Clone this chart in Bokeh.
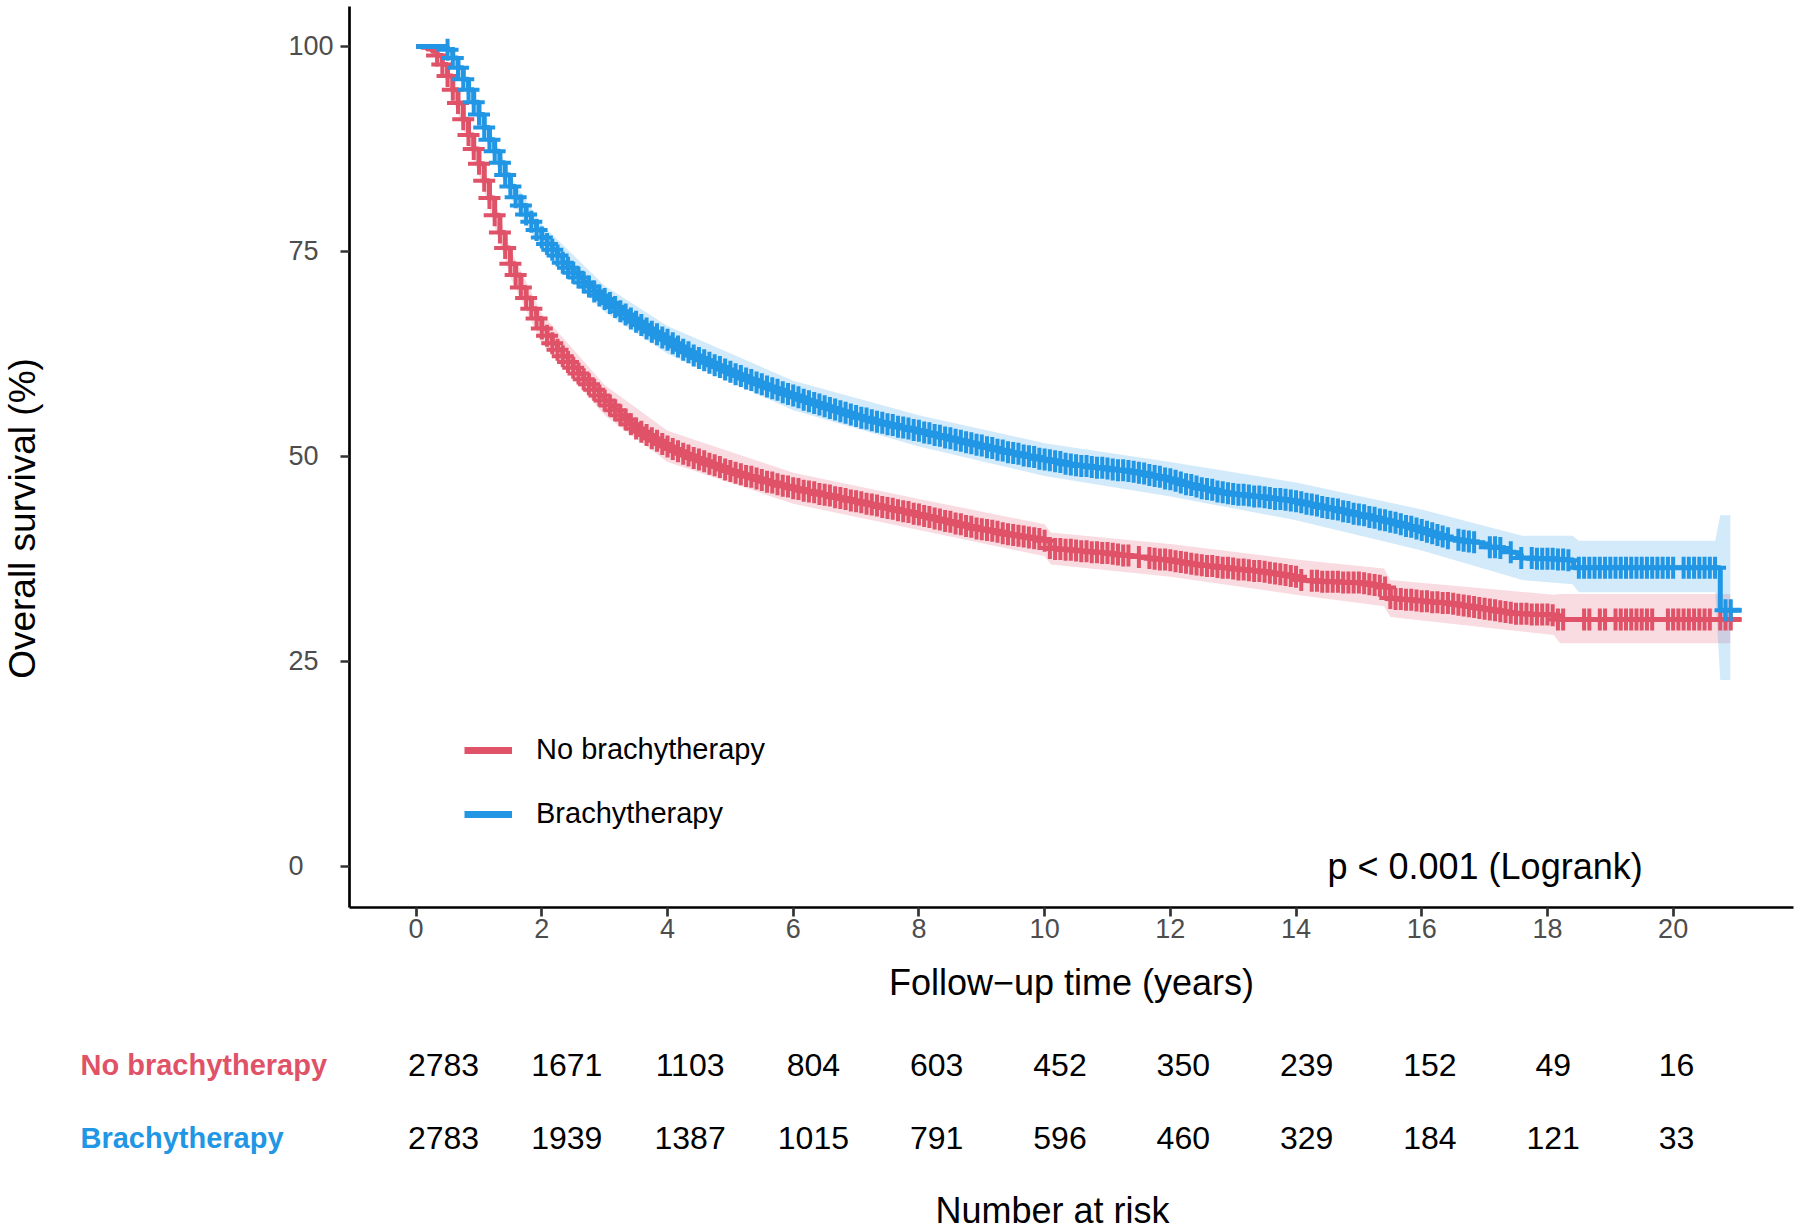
import numpy as np
from bokeh.plotting import figure
from bokeh.models import Range1d, FixedTicker, Legend, LegendItem, Label
from bokeh.layouts import row, column
from bokeh.embed import file_html
from bokeh.resources import INLINE
from bokeh.core.properties import value

# ---------------- data ----------------
groups = ["No brachytherapy", "Brachytherapy"]
RED = "#E05268"
BLUE = "#2196E4"

x_ticks = [0, 2, 4, 6, 8, 10, 12, 14, 16, 18, 20]
y_ticks = [0, 25, 50, 75, 100]

# Kaplan-Meier estimate (%) at follow-up month
months_red = [
    0, 1, 2, 3, 4, 5, 6, 7, 8, 9, 10, 11, 12, 13, 14, 15, 16, 17, 18, 19,
    20, 21, 22, 23, 24, 25, 26, 27, 28, 29, 30, 31, 32, 33, 34, 35, 36, 37, 38, 39,
    40, 41, 42, 43, 44, 45, 46, 47, 48, 49, 50, 51, 52, 53, 54, 55, 56, 57, 58, 59,
    60, 61, 62, 63, 64, 65, 66, 67, 68, 69, 70, 71, 72, 73, 74, 75, 76, 77, 78, 79,
    80, 81, 82, 83, 84, 85, 86, 87, 88, 89, 90, 91, 92, 93, 94, 95, 96, 97, 98, 99,
    100, 101, 102, 103, 104, 105, 106, 107, 108, 109, 110, 111, 112, 113, 114, 115, 116, 117, 118, 119,
    120, 121, 122, 123, 124, 125, 126, 127, 128, 129, 130, 131, 132, 133, 134, 135, 136, 137, 138, 139,
    140, 141, 142, 143, 144, 145, 146, 147, 148, 149, 150, 151, 152, 153, 154, 155, 156, 157, 158, 159,
    160, 161, 162, 163, 164, 165, 166, 167, 168, 169, 170, 171, 172, 173, 174, 175, 176, 177, 178, 179,
    180, 181, 182, 183, 184, 185, 186, 187, 188, 189, 190, 191, 192, 193, 194, 195, 196, 197, 198, 199,
    200, 201, 202, 203, 204, 205, 206, 207, 208, 209, 210, 211, 212, 213, 214, 215, 216, 217, 218, 253]
surv_red = [
    100.0, 99.9, 99.7, 99.4, 98.9, 97.8,
    96.4, 94.7, 93.1, 91.1, 89.2, 87.5,
    85.7, 83.6, 81.5, 79.4, 77.3, 75.4,
    73.5, 72.1, 70.6, 69.3, 68.0, 66.8,
    65.6, 64.7, 63.8, 63.0, 62.2, 61.5,
    60.8, 60.1, 59.4, 58.8, 58.1, 57.4,
    56.8, 56.2, 55.6, 55.0, 54.5, 53.9,
    53.4, 53.0, 52.6, 52.2, 51.9, 51.5,
    51.2, 50.9, 50.6, 50.3, 50.1, 49.8,
    49.6, 49.4, 49.1, 48.9, 48.7, 48.4,
    48.2, 48.0, 47.8, 47.6, 47.5, 47.3,
    47.1, 46.9, 46.8, 46.6, 46.4, 46.3,
    46.1, 46.0, 45.8, 45.7, 45.6, 45.4,
    45.3, 45.2, 45.0, 44.9, 44.8, 44.6,
    44.5, 44.4, 44.2, 44.1, 44.0, 43.8,
    43.7, 43.6, 43.4, 43.3, 43.2, 43.0,
    42.9, 42.7, 42.6, 42.4, 42.3, 42.1,
    42.0, 41.8, 41.7, 41.5, 41.4, 41.2,
    41.1, 41.0, 40.9, 40.8, 40.6, 40.5,
    40.4, 40.3, 40.2, 40.1, 40.0, 39.9,
    39.7, 38.8, 38.7, 38.7, 38.6, 38.6,
    38.5, 38.4, 38.4, 38.3, 38.3, 38.2,
    38.2, 38.1, 38.0, 37.9, 37.9, 37.8,
    37.7, 37.7, 37.6, 37.5, 37.4, 37.4,
    37.3, 37.2, 37.1, 37.0, 36.9, 36.8,
    36.7, 36.6, 36.6, 36.5, 36.4, 36.4,
    36.3, 36.2, 36.2, 36.1, 36.0, 36.0,
    35.9, 35.8, 35.7, 35.6, 35.5, 35.4,
    35.3, 34.9, 34.8, 34.8, 34.8, 34.7,
    34.7, 34.7, 34.7, 34.6, 34.6, 34.6,
    34.6, 34.5, 34.4, 34.3, 34.2, 34.0,
    32.7, 32.6, 32.6, 32.5, 32.5, 32.4,
    32.3, 32.3, 32.2, 32.2, 32.1, 32.1,
    32.0, 31.9, 31.8, 31.7, 31.6, 31.5,
    31.4, 31.3, 31.2, 31.1, 31.0, 30.9,
    30.8, 30.8, 30.8, 30.7, 30.7, 30.7,
    30.7, 30.6,
    30.1, 30.1]

months_blue = [
    0, 1, 2, 3, 4, 5, 6, 7, 8, 9, 10, 11, 12, 13, 14, 15, 16, 17, 18, 19,
    20, 21, 22, 23, 24, 25, 26, 27, 28, 29, 30, 31, 32, 33, 34, 35, 36, 37, 38, 39,
    40, 41, 42, 43, 44, 45, 46, 47, 48, 49, 50, 51, 52, 53, 54, 55, 56, 57, 58, 59,
    60, 61, 62, 63, 64, 65, 66, 67, 68, 69, 70, 71, 72, 73, 74, 75, 76, 77, 78, 79,
    80, 81, 82, 83, 84, 85, 86, 87, 88, 89, 90, 91, 92, 93, 94, 95, 96, 97, 98, 99,
    100, 101, 102, 103, 104, 105, 106, 107, 108, 109, 110, 111, 112, 113, 114, 115, 116, 117, 118, 119,
    120, 121, 122, 123, 124, 125, 126, 127, 128, 129, 130, 131, 132, 133, 134, 135, 136, 137, 138, 139,
    140, 141, 142, 143, 144, 145, 146, 147, 148, 149, 150, 151, 152, 153, 154, 155, 156, 157, 158, 159,
    160, 161, 162, 163, 164, 165, 166, 167, 168, 169, 170, 171, 172, 173, 174, 175, 176, 177, 178, 179,
    180, 181, 182, 183, 184, 185, 186, 187, 188, 189, 190, 191, 192, 193, 194, 195, 196, 197, 198, 199,
    200, 201, 202, 203, 204, 205, 206, 207, 208, 209, 210, 211, 212, 213, 214, 215, 216, 217, 218, 219,
    220, 221, 249, 253]
surv_blue = [
    100.0, 100.0, 100.0, 100.0, 100.0, 100.0,
    99.6, 98.6, 97.4, 96.0, 94.7, 93.2,
    91.7, 90.1, 88.6, 87.2, 85.8, 84.3,
    82.9, 81.6, 80.6, 79.5, 78.6, 77.6,
    76.7, 75.9, 75.2, 74.5, 73.6, 73.0,
    72.4, 71.8, 71.2, 70.7, 70.1, 69.6,
    69.2, 68.7, 68.2, 67.7, 67.3, 66.8,
    66.4, 66.0, 65.6, 65.2, 64.9, 64.5,
    64.2, 63.8, 63.4, 63.0, 62.7, 62.3,
    62.0, 61.7, 61.4, 61.1, 60.9, 60.6,
    60.3, 60.0, 59.8, 59.5, 59.3, 59.0,
    58.8, 58.5, 58.3, 58.1, 57.8, 57.6,
    57.4, 57.2, 56.9, 56.7, 56.5, 56.3,
    56.1, 55.9, 55.7, 55.5, 55.3, 55.1,
    54.9, 54.7, 54.6, 54.4, 54.2, 54.1,
    53.9, 53.8, 53.6, 53.5, 53.4, 53.2,
    53.1, 52.9, 52.8, 52.6, 52.5, 52.3,
    52.2, 52.0, 51.9, 51.7, 51.6, 51.4,
    51.3, 51.1, 51.0, 50.8, 50.7, 50.5,
    50.4, 50.3, 50.1, 50.0, 49.9, 49.7,
    49.6, 49.5, 49.4, 49.3, 49.1, 49.0,
    48.9, 48.8, 48.8, 48.7, 48.6, 48.6,
    48.5, 48.4, 48.3, 48.3, 48.2, 48.1,
    48.0, 47.9, 47.7, 47.6, 47.5, 47.3,
    47.2, 47.0, 46.8, 46.6, 46.5, 46.3,
    46.1, 46.0, 45.9, 45.7, 45.6, 45.5,
    45.4, 45.3, 45.3, 45.2, 45.1, 45.1,
    45.0, 44.9, 44.8, 44.8, 44.7, 44.6,
    44.5, 44.4, 44.2, 44.1, 44.0, 43.8,
    43.7, 43.6, 43.5, 43.3, 43.2, 43.0,
    42.9, 42.8, 42.6, 42.5, 42.3, 42.2,
    42.0, 41.9, 41.7, 41.5, 41.4, 41.2,
    41.0, 40.8, 40.6, 40.4, 40.2, 40.0,
    39.9, 39.8, 39.7, 39.6, 39.5, 39.4,
    39.3, 38.9, 38.9, 38.8, 38.5, 38.3,
    38.1, 37.6, 37.6, 37.6, 37.5, 37.5,
    37.5, 37.5, 37.4, 37.4, 37.3,
    36.4, 31.2, 31.2]

# months with censoring marks
censor_red = [
    4, 5, 6, 7, 8, 9, 10, 11, 12, 13, 14, 15, 16, 17, 18, 19, 20, 21, 22, 23,
    24, 25, 26, 27, 28, 29, 30, 31, 32, 33, 34, 35, 36, 37, 38, 39, 40, 41, 42, 43,
    44, 45, 46, 47, 48, 49, 50, 51, 52, 53, 54, 55, 56, 57, 58, 59, 60, 61, 62, 63,
    64, 65, 66, 67, 68, 69, 70, 71, 72, 73, 74, 75, 76, 77, 78, 79, 80, 81, 82, 83,
    84, 85, 86, 87, 88, 89, 90, 91, 92, 93, 94, 95, 96, 97, 98, 99, 100, 101, 102, 103,
    104, 105, 106, 107, 108, 109, 110, 111, 112, 113, 114, 115, 116, 117, 118, 119, 120, 121, 122, 123,
    124, 125, 126, 127, 128, 129, 130, 131, 132, 133, 134, 135, 136, 138, 140, 141, 142, 143, 144, 145,
    146, 147, 148, 149, 150, 151, 152, 153, 154, 155, 156, 157, 158, 159, 160, 161, 162, 163, 164, 165,
    166, 167, 168, 169, 171, 172, 173, 174, 175, 176, 177, 178, 179, 180, 181, 182, 183, 184, 185, 186,
    187, 188, 189, 190, 191, 192, 193, 194, 195, 196, 197, 198, 199, 200, 201, 202, 203, 204, 205, 206,
    207, 208, 209, 210, 211, 212, 213, 214, 215, 216, 217, 218, 219, 223, 224, 226, 227, 229, 230, 231,
    232, 233, 234, 235, 236, 239, 240, 241, 242, 243, 244, 245, 246, 247, 249, 250, 251]
censor_blue = [
    6, 7, 8, 9, 10, 11, 12, 13, 14, 15, 16, 17, 18, 19, 20, 21, 22, 23, 24, 25,
    26, 27, 28, 29, 30, 31, 32, 33, 34, 35, 36, 37, 38, 39, 40, 41, 42, 43, 44, 45,
    46, 47, 48, 49, 50, 51, 52, 53, 54, 55, 56, 57, 58, 59, 60, 61, 62, 63, 64, 65,
    66, 67, 68, 69, 70, 71, 72, 73, 74, 75, 76, 77, 78, 79, 80, 81, 82, 83, 84, 85,
    86, 87, 88, 89, 90, 91, 92, 93, 94, 95, 96, 97, 98, 99, 100, 101, 102, 103, 104, 105,
    106, 107, 108, 109, 110, 111, 112, 113, 114, 115, 116, 117, 118, 119, 120, 121, 122, 123, 124, 125,
    126, 127, 128, 129, 130, 131, 132, 133, 134, 135, 136, 137, 138, 139, 140, 141, 142, 143, 144, 145,
    146, 147, 148, 149, 150, 151, 152, 153, 154, 155, 156, 157, 158, 159, 160, 161, 162, 163, 164, 165,
    166, 167, 168, 169, 170, 171, 172, 173, 174, 175, 176, 177, 178, 179, 180, 181, 182, 183, 184, 185,
    186, 187, 188, 189, 190, 191, 192, 193, 194, 195, 196, 197, 199, 200, 201, 202, 205, 206, 207, 209,
    211, 213, 214, 215, 216, 217, 218, 219, 220, 222, 223, 224, 225, 226, 227, 228, 229, 230, 231, 232,
    233, 234, 235, 236, 237, 238, 239, 240, 242, 243, 244, 245, 246, 247, 248, 250, 251]

# 95% confidence band (years, %)
ci_t_red = [0, 0.3, 0.5, 1.0, 1.5, 2.0, 3.0, 4.0, 6.0, 8.0, 10.0, 10.1, 12.0, 14.0, 15.4, 15.5, 18.1, 18.2, 20.91]
ci_lo_red = [100, 99.3, 95.4, 84.3, 71.8, 63.8, 55.0, 49.3, 44.2, 41.0, 37.8, 36.8, 35.3, 33.1, 31.7, 30.4, 28.2, 27.2, 27.2]
ci_hi_red = [100, 100, 97.4, 87.1, 75.2, 67.4, 58.7, 53.1, 48.0, 44.8, 41.7, 40.7, 39.3, 37.4, 36.3, 34.9, 33.1, 33.2, 33.2]
ci_t_blue = [0, 0.49, 1.0, 1.5, 2.0, 3.0, 4.0, 6.0, 8.0, 10.0, 12.0, 14.0, 16.0, 17.6, 18.4, 18.5, 20.67, 20.75, 20.91]
ci_lo_blue = [100, 100, 90.6, 81.6, 75.1, 67.6, 62.5, 55.6, 51.2, 47.6, 45.1, 42.2, 38.5, 34.9, 34.4, 33.4, 33.4, 22.7, 22.7]
ci_hi_blue = [100, 100, 92.8, 84.2, 78.3, 70.8, 65.9, 59.2, 55.0, 51.6, 49.3, 46.8, 43.5, 40.3, 40.3, 39.7, 39.7, 42.8, 42.8]

# number at risk table
risk_times = [0, 2, 4, 6, 8, 10, 12, 14, 16, 18, 20]
risk_red = [2783, 1671, 1103, 804, 603, 452, 350, 239, 152, 49, 16]
risk_blue = [2783, 1939, 1387, 1015, 791, 596, 460, 329, 184, 121, 33]

p_text = "p < 0.001 (Logrank)"
x_title = "Follow\u2212up time (years)"
y_title = "Overall survival (%)"
risk_title = "Number at risk"

# ---------------- layout constants (px in the 1800x1230 page) ----------------
FONT = "Liberation Sans"
W, H = 1800, 1230
TITLE_W = 50                 # strip holding the rotated y title
MAIN_H = 1005                # height of the plot part
RISK_H = H - MAIN_H
FL, FR, FT, FB = 349, 1793, 6, 907      # frame edges
X_START, X_END = -1.06, 21.915
Y_START, Y_END = -5.05, 104.87


def bare(fig):
    fig.outline_line_color = None
    fig.grid.visible = False
    return fig


# ---------- y title strip ----------
fy = bare(figure(width=TITLE_W, height=MAIN_H, output_backend="svg", toolbar_location=None,
                 x_range=Range1d(0, TITLE_W), y_range=Range1d(0, MAIN_H),
                 x_axis_location=None, y_axis_location=None, frame_align=False,
                 min_border_left=0, min_border_right=0, min_border_top=0, min_border_bottom=0))
fy.add_layout(Label(x=22, y=MAIN_H - 518, text=y_title, angle=np.pi / 2,
                    text_font=FONT, text_font_size="37px", text_align="center",
                    text_baseline="middle", text_color="black"))

# ---------- main survival plot ----------
p = bare(figure(width=W - TITLE_W, height=MAIN_H, output_backend="svg", toolbar_location=None,
                x_range=Range1d(X_START, X_END), y_range=Range1d(Y_START, Y_END),
                frame_align=False,
                min_border_left=FL - TITLE_W, min_border_right=W - FR, min_border_top=FT,
                min_border_bottom=MAIN_H - FB))

p.xaxis.ticker = FixedTicker(ticks=x_ticks)
p.yaxis.ticker = FixedTicker(ticks=y_ticks)
# the reference's y labels are left-aligned: pad with figure spaces (digit width)
p.yaxis.major_label_overrides = {v: str(v).ljust(3, "\u2007") for v in y_ticks}
for ax in (p.xaxis[0], p.yaxis[0]):
    ax.axis_line_width = 2.7
    ax.axis_line_color = "black"
    ax.major_tick_line_width = 2.7
    ax.major_tick_line_color = "#333333"
    ax.major_tick_out = 9
    ax.major_tick_in = 0
    ax.minor_tick_line_color = None
    ax.major_label_text_font = FONT
    ax.major_label_text_font_size = "27px"
    ax.major_label_text_color = "#4D4D4D"
    ax.axis_label_text_font = FONT
    ax.axis_label_text_font_size = "36px"
    ax.axis_label_text_font_style = "normal"
    ax.axis_label_text_color = "black"
p.xaxis.axis_label = x_title
p.xaxis.major_label_standoff = 2
p.xaxis.axis_label_standoff = 21
p.yaxis.major_label_standoff = 7

# confidence bands
p.varea(x=ci_t_red, y1=ci_lo_red, y2=ci_hi_red, fill_color=RED, fill_alpha=0.2)
p.varea(x=ci_t_blue, y1=ci_lo_blue, y2=ci_hi_blue, fill_color=BLUE, fill_alpha=0.2)


def draw_curve(months, surv, censor, color):
    t = np.array(months) / 12.0
    s = np.array(surv)
    p.step(t, s, mode="after", line_color=color, line_width=5)
    idx = np.searchsorted(np.array(months), np.array(censor), side="right") - 1
    p.scatter(np.array(censor) / 12.0, s[idx], marker="cross", size=22,
              line_color=color, line_width=4)


draw_curve(months_red, surv_red, censor_red, RED)
draw_curve(months_blue, surv_blue, censor_blue, BLUE)

leg_r = p.line(x=[np.nan], y=[np.nan], line_color=RED, line_width=7)
leg_b = p.line(x=[np.nan], y=[np.nan], line_color=BLUE, line_width=7)
legend = Legend(items=[LegendItem(label=groups[0], renderers=[leg_r]),
                       LegendItem(label=groups[1], renderers=[leg_b])],
                location=(115, 77), orientation="vertical",
                glyph_width=48, glyph_height=30, label_standoff=24, label_height=30,
                spacing=31, padding=0, margin=0,
                label_text_font=FONT, label_text_font_size="29px", label_text_color="black",
                border_line_color=None, background_fill_alpha=0)
p.add_layout(legend)

p.add_layout(Label(x=14.5, y=0, text=p_text, text_font=FONT, text_font_size="36px",
                   text_baseline="middle", text_align="left", text_color="black"))

# ---------- number-at-risk table ----------
RS = 61.65            # px per year in the table
T0_PX = 443           # px of time 0 in the table
ROW_PX = 73           # px between table rows
ROW1_PX = 1064 - MAIN_H   # first row, px from the table top
rx_start = -T0_PX / RS
rx_end = (W - T0_PX) / RS
ry_end = 1 + ROW1_PX / ROW_PX
ry_start = 1 - (RISK_H - ROW1_PX) / ROW_PX

r = bare(figure(width=W, height=RISK_H, output_backend="svg", toolbar_location=None,
                x_range=Range1d(rx_start, rx_end), y_range=Range1d(ry_start, ry_end),
                x_axis_location=None, y_axis_location=None, frame_align=False,
                min_border_left=0, min_border_right=0, min_border_top=0, min_border_bottom=0))

row_y = [1, 0]
for yrow, counts in zip(row_y, (risk_red, risk_blue)):
    r.text(x=risk_times, y=np.full(len(risk_times), yrow),
           text=[str(c) for c in counts], text_font=value(FONT), text_font_size="32px",
           text_color="black", text_align="center", text_baseline="middle")

r.text(x=np.full(2, rx_start + 80 / RS), y=row_y, text=groups,
       text_color=[RED, BLUE], text_font=value(FONT), text_font_size="29px",
       text_font_style="bold", text_align="left", text_baseline="middle")

r.add_layout(Label(x=rx_start + 1052 / RS, y=1 - (1210 - 1064) / ROW_PX, text=risk_title,
                   text_font=FONT, text_font_size="36px", text_align="center",
                   text_baseline="middle", text_color="black"))

layout = column(row(fy, p, spacing=0), r, spacing=0)
open("out.html", "w").write(file_html(layout, INLINE))
